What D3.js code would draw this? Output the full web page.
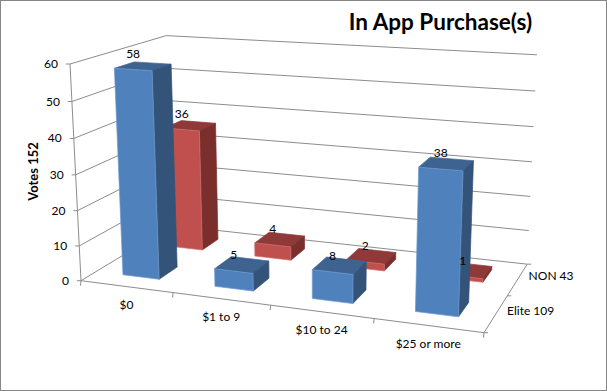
<!DOCTYPE html>
<html>
<head>
<meta charset="utf-8">
<script src="https://cdnjs.cloudflare.com/ajax/libs/d3/7.8.5/d3.min.js"></script>
<style>
    body { margin: 0; background: #fff; }
    svg { display: block; }
    text { font-family: Lato, sans-serif; fill: #000; }
</style>
</head>
<body>
<div id="viz"></div>
<script>
const categories = ["$0", "$1 to 9", "$10 to 24", "$25 or more"];
const seriesNames = ["Elite 109", "NON 43"];
const eliteValues = [58, 5, 8, 38];
const nonValues = [36, 4, 2, 1];
const yTicks = [0, 10, 20, 30, 40, 50, 60];

const width = 607;
const height = 391;

const svg = d3.select("#viz")
    .append("svg")
    .attr("width", width)
    .attr("height", height);

svg.append("rect")
    .attr("x", 0.5).attr("y", 0.5)
    .attr("width", width - 1).attr("height", height - 1)
    .attr("fill", "#fff")
    .attr("stroke", "#868686");

// scales go to a unit cube, the projection takes it on to the screen
const xScale = d3.scaleBand().domain(categories).range([0, 1]).paddingInner(0.6).paddingOuter(0.3);
const zScale = d3.scaleBand().domain(seriesNames).range([0, 1]).paddingInner(0.6).paddingOuter(0.3);
const yScale = d3.scaleLinear().domain([0, 60]).range([0, 1]);
const xCenter = c => xScale(c) + xScale.bandwidth() / 2;

// screen position of the cube corners next to the origin + homogeneous weights
const O = [81, 280.7], A = [484, 332.7], B = [70, 64], C = [172, 225.5];
const wa = 0.889, wb = 0.955, wc = 1.148;
const project = (x, y, z) => {
    const w = 1 + x * (wa - 1) + y * (wb - 1) + z * (wc - 1);
    const p = [0, 1].map(i => O[i]
        + x * (wa * A[i] - O[i])
        + y * (wb * B[i] - O[i])
        + z * (wc * C[i] - O[i]));
    return [p[0] / w, p[1] / w];
};

const line = d3.line();
const gridColor = "#8c8c8c";

const seg = (g, a, b) => g.append("path")
    .attr("d", line([project(...a), project(...b)]))
    .attr("fill", "none")
    .attr("stroke", gridColor)
    .attr("stroke-width", 1);

const grid = svg.append("g");
yTicks.forEach(t => {
    const v = yScale(t);
    seg(grid, [0, v, 0], [0, v, 1]);
    seg(grid, [0, v, 1], [1, v, 1]);
});
// axis lines
seg(grid, [0, 0, 0], [0, 1, 0]);
seg(grid, [0, 0, 0], [1, 0, 0]);
seg(grid, [1, 0, 0], [1, 0, 1]);

// ticks
yTicks.forEach(t => {
    const p = project(0, yScale(t), 0);
    grid.append("path")
        .attr("d", line([p, [p[0] - 4, p[1]]]))
        .attr("stroke", gridColor);
    svg.append("text")
        .attr("x", p[0] - 12)
        .attr("y", p[1] + 1)
        .attr("text-anchor", "end")
        .attr("dominant-baseline", "middle")
        .attr("font-size", 12)
        .text(t);
});
d3.range(0, 5).forEach(i => {
    const p = project(i / 4, 0, 0);
    grid.append("path")
        .attr("d", line([p, [p[0] - 0.5, p[1] + 5]]))
        .attr("stroke", gridColor);
});
d3.range(0, 3).forEach(i => {
    const p = project(1, 0, i / 2);
    grid.append("path")
        .attr("d", line([p, [p[0] + 4, p[1]]]))
        .attr("stroke", gridColor);
});

categories.forEach(c => {
    const p = project(xCenter(c), 0, 0);
    svg.append("text")
        .attr("x", p[0])
        .attr("y", p[1] + 19)
        .attr("text-anchor", "middle")
        .attr("dominant-baseline", "middle")
        .attr("font-size", 12)
        .text(c);
});

seriesNames.forEach(s => {
    const p = project(1, 0, zScale(s) + zScale.bandwidth() / 2);
    svg.append("text")
        .attr("x", p[0] + 11)
        .attr("y", p[1] - 2)
        .attr("dominant-baseline", "middle")
        .attr("font-size", 12)
        .text(s);
});

// back row first so the front bars cover it
const colors = {
    "Elite 109": {front: "#4f81bd", top: "#3e6390", side: "#335378", edge: "#6f9acd"},
    "NON 43": {front: "#c0504d", top: "#8f3a38", side: "#7b2f2d", edge: "#cf716e"}
};
const rows = [
    {name: seriesNames[1], values: nonValues},
    {name: seriesNames[0], values: eliteValues}
];

const bars = svg.append("g");
rows.forEach(row => {
    const col = colors[row.name];
    const z0 = zScale(row.name), z1 = z0 + zScale.bandwidth();
    row.values.forEach((d, i) => {
        const x0 = xScale(categories[i]), x1 = x0 + xScale.bandwidth();
        const v = yScale(d);
        const face = (pts, fill, stroke) => bars.append("path")
            .attr("d", line(pts.map(q => project(...q))) + "Z")
            .attr("fill", fill)
            .attr("stroke", stroke)
            .attr("stroke-width", 0.7)
            .attr("stroke-linejoin", "round");
        face([[x0, v, z1], [x1, v, z1], [x1, v, z0], [x0, v, z0]], col.top, col.top);
        face([[x1, 0, z0], [x1, 0, z1], [x1, v, z1], [x1, v, z0]], col.side, col.side);
        face([[x0, 0, z0], [x1, 0, z0], [x1, v, z0], [x0, v, z0]], col.front, col.edge);
    });
});

rows.forEach(row => {
    const z0 = zScale(row.name);
    row.values.forEach((d, i) => {
        const p = project(xCenter(categories[i]), yScale(d), z0);
        svg.append("text")
            .attr("x", p[0])
            .attr("y", p[1] - 15)
            .attr("text-anchor", "middle")
            .attr("dominant-baseline", "middle")
            .attr("font-size", 12)
            .text(d);
    });
});

svg.append("text")
    .attr("transform", "translate(38,171.5) rotate(-90)")
    .attr("text-anchor", "middle")
    .attr("font-size", 13)
    .attr("font-weight", "bold")
    .text("Votes 152");

svg.append("text")
    .attr("x", 440.5)
    .attr("y", 30)
    .attr("text-anchor", "middle")
    .attr("font-size", 22.5)
    .attr("font-weight", "bold")
    .text("In App Purchase(s)");
</script>
</body>
</html>
